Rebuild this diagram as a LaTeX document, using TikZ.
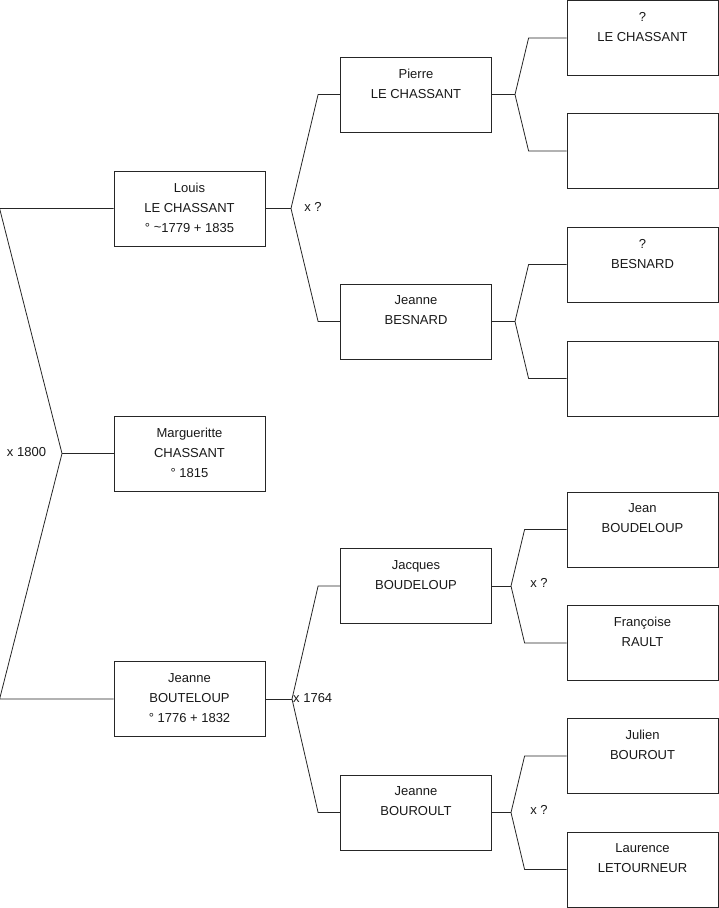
\documentclass[tikz,border=0pt]{standalone}
\usepackage{fontspec}
\setmainfont{Liberation Sans}
\newcommand{\lastl}{\rule[-2pt]{0pt}{2pt}}
\begin{document}
\begin{tikzpicture}[x=1pt,y=-1pt,
  person/.style={draw=black!85, line width=0.8pt, minimum width=151pt, minimum height=75pt,
    inner sep=0pt, align=center, font=\fontsize{13}{20}\selectfont, text=black!90},
  link/.style={draw=black!85, line width=0.8pt},
  marr/.style={font=\fontsize{13}{15}\selectfont, text=black!90, inner sep=0pt}]
\fill[white] (0,0) rectangle (719,908);
\useasboundingbox (0,0) rectangle (719,908);
% generation 1
\node[person] (louis) at (189.5,208.5) {Louis\\LE CHASSANT\\° \raisebox{0.15ex}{\textasciitilde}1779 + 1835\lastl};
\node[person] (marg) at (189.5,453.5) {Margueritte\\CHASSANT\\° 1815\lastl};
\node[person] (bout) at (189.5,699) {Jeanne\\BOUTELOUP\\° 1776 + 1832\lastl};
% generation 2
\node[person] (pierre) at (416,94.5) {Pierre\\LE CHASSANT\\\lastl};
\node[person] (jbes) at (416,321.5) {Jeanne\\BESNARD\\\lastl};
\node[person] (jacq) at (416,586) {Jacques\\BOUDELOUP\\\lastl};
\node[person] (jbour) at (416,812.5) {Jeanne\\BOUROULT\\\lastl};
% generation 3
\node[person] (lc) at (642.5,38) {?\\LE CHASSANT\\\lastl};
\node[person] (e1) at (642.5,151) {};
\node[person] (bes) at (642.5,264.5) {?\\BESNARD\\\lastl};
\node[person] (e2) at (642.5,378.5) {};
\node[person] (jean) at (642.5,529.5) {Jean\\BOUDELOUP\\\lastl};
\node[person] (fran) at (642.5,643) {Françoise\\RAULT\\\lastl};
\node[person] (jul) at (642.5,756) {Julien\\BOUROUT\\\lastl};
\node[person] (laur) at (642.5,869.5) {Laurence\\LETOURNEUR\\\lastl};
% tips
\coordinate (tA) at (62,453.5);
\coordinate (tL) at (291,208.5);
\coordinate (tB) at (292,699);
\coordinate (tP) at (515,94.5);
\coordinate (tJ) at (515,321.5);
\coordinate (tQ) at (511,586);
\coordinate (tR) at (511,812.5);
% connectors
\draw[link] (louis.west) -- ([xshift=-114pt]louis.west) -- (tA) -- ([xshift=-114pt]bout.west) -- (bout.west);
\draw[link] (tA) -- (marg.west);
\draw[link] (louis.east) -- (tL);
\draw[link] (pierre.west) -- ([xshift=-22pt]pierre.west) -- (tL) -- ([xshift=-22pt]jbes.west) -- (jbes.west);
\draw[link] (bout.east) -- (tB);
\draw[link] (jacq.west) -- ([xshift=-22pt]jacq.west) -- (tB) -- ([xshift=-22pt]jbour.west) -- (jbour.west);
\draw[link] (pierre.east) -- (tP);
\draw[link] (lc.west) -- ([xshift=-38pt]lc.west) -- (tP) -- ([xshift=-38pt]e1.west) -- (e1.west);
\draw[link] (jbes.east) -- (tJ);
\draw[link] (bes.west) -- ([xshift=-38pt]bes.west) -- (tJ) -- ([xshift=-38pt]e2.west) -- (e2.west);
\draw[link] (jacq.east) -- (tQ);
\draw[link] (jean.west) -- ([xshift=-42pt]jean.west) -- (tQ) -- ([xshift=-42pt]fran.west) -- (fran.west);
\draw[link] (jbour.east) -- (tR);
\draw[link] (jul.west) -- ([xshift=-42pt]jul.west) -- (tR) -- ([xshift=-42pt]laur.west) -- (laur.west);
% marriage labels
\node[marr] (m1) at (26.5,452) {x 1800};
\node[marr] (m2) at (313,207) {x ?};
\node[marr, anchor=west] (m3) at (293,698) {x 1764};
\node[marr] (m4) at (539,583) {x ?};
\node[marr] (m5) at (539,810) {x ?};
\end{tikzpicture}
\end{document}
